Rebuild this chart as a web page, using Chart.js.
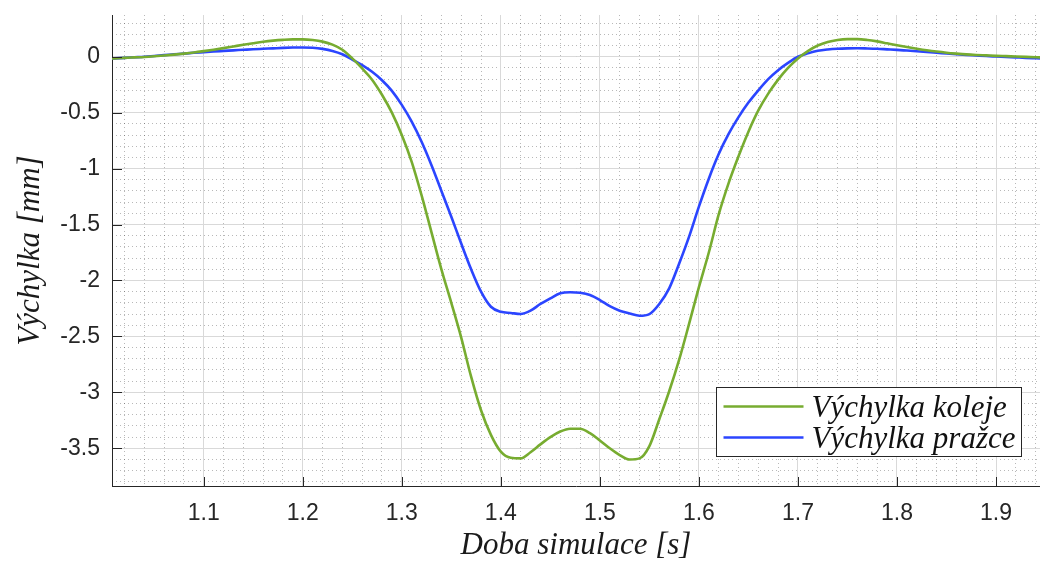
<!DOCTYPE html>
<html>
<head>
<meta charset="utf-8">
<script src="https://cdn.jsdelivr.net/npm/chart.js@4.4.1/dist/chart.umd.min.js"></script>
<style>
  html, body { margin: 0; padding: 0; background: #fff; }
</style>
</head>
<body>
<canvas id="chart" width="1040" height="566"></canvas>
<script>
// simulation time [s]
const time = [
  1.00, 1.01, 1.02, 1.03, 1.04, 1.05, 1.06, 1.07, 1.08, 1.09,
  1.10, 1.11, 1.12, 1.13, 1.14, 1.15, 1.16, 1.17, 1.18, 1.19,
  1.20, 1.21, 1.22, 1.23, 1.24, 1.25, 1.26, 1.27, 1.28, 1.29,
  1.30, 1.31, 1.32, 1.33, 1.34, 1.35, 1.36, 1.37, 1.38, 1.39,
  1.40, 1.41, 1.42, 1.43, 1.44, 1.45, 1.46, 1.47, 1.48, 1.49,
  1.50, 1.51, 1.52, 1.53, 1.54, 1.55, 1.56, 1.57, 1.58, 1.59,
  1.60, 1.61, 1.62, 1.63, 1.64, 1.65, 1.66, 1.67, 1.68, 1.69,
  1.70, 1.71, 1.72, 1.73, 1.74, 1.75, 1.76, 1.77, 1.78, 1.79,
  1.80, 1.81, 1.82, 1.83, 1.84, 1.85, 1.86, 1.87, 1.88, 1.89,
  1.90, 1.91, 1.92, 1.93, 1.94, 1.95
];

// rail deflection [mm]
const koleje = [
  -0.020, -0.015, -0.010, -0.006, -0.002, 0.004, 0.011, 0.019, 0.028, 0.038,
  0.050, 0.063, 0.077, 0.092, 0.107, 0.121, 0.134, 0.144, 0.151, 0.155,
  0.155, 0.149, 0.135, 0.108, 0.062, -0.015, -0.105, -0.205, -0.340, -0.500,
  -0.700, -0.940, -1.240, -1.570, -1.900, -2.200, -2.510, -2.860, -3.160, -3.380,
  -3.530, -3.585, -3.590, -3.535, -3.465, -3.400, -3.350, -3.325, -3.325, -3.365,
  -3.430, -3.500, -3.560, -3.600, -3.590, -3.480, -3.240, -2.990, -2.710, -2.390,
  -2.060, -1.750, -1.410, -1.130, -0.890, -0.670, -0.480, -0.330, -0.205, -0.100,
  -0.015, 0.050, 0.100, 0.132, 0.150, 0.157, 0.157, 0.150, 0.137, 0.120,
  0.103, 0.087, 0.072, 0.058, 0.046, 0.036, 0.028, 0.021, 0.016, 0.012,
  0.008, 0.005, 0.002, -0.001, -0.004, -0.007
];

// sleeper deflection [mm]
const prazce = [
  -0.020, -0.015, -0.010, -0.005, 0.000, 0.007, 0.014, 0.021, 0.028, 0.035,
  0.041, 0.047, 0.052, 0.057, 0.062, 0.067, 0.071, 0.075, 0.079, 0.082,
  0.083, 0.080, 0.070, 0.052, 0.022, -0.025, -0.075, -0.135, -0.210, -0.305,
  -0.430, -0.580, -0.760, -0.970, -1.200, -1.430, -1.670, -1.900, -2.100, -2.235,
  -2.280, -2.290, -2.300, -2.270, -2.210, -2.160, -2.115, -2.105, -2.110, -2.130,
  -2.175, -2.230, -2.270, -2.295, -2.315, -2.300, -2.210, -2.070, -1.850, -1.610,
  -1.340, -1.090, -0.870, -0.690, -0.540, -0.410, -0.300, -0.200, -0.120, -0.055,
  0.000, 0.030, 0.053, 0.065, 0.072, 0.075, 0.076, 0.074, 0.071, 0.066,
  0.061, 0.055, 0.049, 0.043, 0.036, 0.029, 0.022, 0.016, 0.011, 0.006,
  0.002, -0.002, -0.006, -0.010, -0.013, -0.016
];

const seriesNames = ["Výchylka koleje", "Výchylka pražce"];
const seriesColors = ["#77AC30", "#2B45FF"];

const xTicks = [1.1, 1.2, 1.3, 1.4, 1.5, 1.6, 1.7, 1.8, 1.9];
const yTicks = [0, -0.5, -1, -1.5, -2, -2.5, -3, -3.5];
const xRange = [1.0074, 1.9444];
const yRange = [-3.837, 0.373];
const xMinorStep = 0.02;
const yMinorStep = 0.1;

const tickFont = { family: "'Liberation Sans', Arial, sans-serif", size: 23 };
const titleFont = { family: "'Liberation Serif', 'Times New Roman', serif", style: "italic", size: 31 };

function minorTicks(min, max, step) {
  const out = [];
  for (let v = Math.ceil(min / step) * step; v <= max + 1e-9; v += step) {
    out.push({ value: +v.toFixed(4) });
  }
  return out;
}

// drop the label overflow padding so the plot box stays where it is
function noPad(s) {
  s.paddingTop = 0;
  s.paddingBottom = 0;
  s.paddingLeft = 0;
  s.paddingRight = 0;
}

// MATLAB style ticks pointing into the plot
const inwardTicks = {
  id: "inwardTicks",
  afterDatasetsDraw(chart) {
    const { ctx, chartArea: a, scales } = chart;
    ctx.save();
    ctx.strokeStyle = "#262626";
    ctx.lineWidth = 1;
    ctx.beginPath();
    scales.x.ticks.forEach((t) => {
      const px = Math.round(scales.x.getPixelForValue(t.value)) + 0.5;
      ctx.moveTo(px, a.bottom);
      ctx.lineTo(px, a.bottom - 9);
    });
    scales.y.ticks.forEach((t) => {
      const py = Math.round(scales.y.getPixelForValue(t.value)) + 0.5;
      ctx.moveTo(a.left, py);
      ctx.lineTo(a.left + 10, py);
    });
    ctx.stroke();
    ctx.restore();
  },
};

// boxed legend inside the plot, lower right
const boxLegend = {
  id: "boxLegend",
  afterDraw(chart) {
    const { ctx, chartArea: a } = chart;
    const w = 305, h = 69;
    const x0 = Math.round(a.right - 19 - w) + 0.5;
    const y0 = Math.round(a.bottom - 30 - h) + 0.5;
    ctx.save();
    ctx.fillStyle = "#fff";
    ctx.fillRect(x0, y0, w, h);
    ctx.strokeStyle = "#262626";
    ctx.lineWidth = 1;
    ctx.strokeRect(x0, y0, w, h);
    ctx.font = `italic ${titleFont.size}px ${titleFont.family}`;
    ctx.textBaseline = "alphabetic";
    ctx.textAlign = "left";
    chart.data.datasets.forEach((ds, i) => {
      const cy = y0 + 19 + i * 31;
      ctx.strokeStyle = ds.borderColor;
      ctx.lineWidth = ds.borderWidth;
      ctx.beginPath();
      ctx.moveTo(x0 + 7, cy);
      ctx.lineTo(x0 + 87, cy);
      ctx.stroke();
      ctx.fillStyle = "#111";
      ctx.fillText(ds.label, x0 + 95, cy + 10);
    });
    ctx.restore();
  },
};

const chart = new Chart(document.getElementById("chart").getContext("2d"), {
  type: "line",
  data: {
    datasets: [
      {
        label: seriesNames[0],
        data: time.map((t, i) => ({ x: t, y: koleje[i] })),
        borderColor: seriesColors[0],
        borderWidth: 2.6,
      },
      {
        label: seriesNames[1],
        data: time.map((t, i) => ({ x: t, y: prazce[i] })),
        borderColor: seriesColors[1],
        borderWidth: 2.6,
      },
    ],
  },
  options: {
    responsive: false,
    animation: false,
    devicePixelRatio: 1,
    layout: { padding: { top: 15, left: 0, right: 0, bottom: 0 } },
    elements: {
      point: { radius: 0 },
      line: { cubicInterpolationMode: "monotone", fill: false },
    },
    plugins: {
      legend: { display: false },
      tooltip: { enabled: false },
    },
    scales: {
      xMinor: {
        type: "linear",
        position: "top",
        min: xRange[0],
        max: xRange[1],
        afterBuildTicks: (s) => { s.ticks = minorTicks(xRange[0], xRange[1], xMinorStep); },
        afterFit: (s) => { s.height = 0; noPad(s); },
        ticks: { display: false },
        grid: { color: "rgba(0,0,0,0.28)", lineWidth: 1, drawTicks: false },
        border: { display: false, dash: [1, 3] },
      },
      yMinor: {
        type: "linear",
        position: "right",
        min: yRange[0],
        max: yRange[1],
        afterBuildTicks: (s) => { s.ticks = minorTicks(yRange[0], yRange[1], yMinorStep); },
        afterFit: (s) => { s.width = 0; noPad(s); },
        ticks: { display: false },
        grid: { color: "rgba(0,0,0,0.28)", lineWidth: 1, drawTicks: false },
        border: { display: false, dash: [1, 3] },
      },
      x: {
        type: "linear",
        position: "bottom",
        min: xRange[0],
        max: xRange[1],
        afterBuildTicks: (s) => { s.ticks = xTicks.map((v) => ({ value: v })); },
        afterFit: (s) => { s.height = 80; noPad(s); },
        ticks: {
          callback: (v) => String(v),
          font: tickFont,
          color: "#262626",
          padding: 14,
          maxRotation: 0,
          autoSkip: false,
        },
        grid: { color: "#d9d9d9", lineWidth: 1, drawTicks: false },
        border: { display: true, color: "#262626", width: 1 },
        title: {
          display: true,
          text: "Doba simulace [s]",
          font: titleFont,
          color: "#1a1a1a",
          padding: { top: 0, bottom: 2 },
        },
      },
      y: {
        type: "linear",
        position: "left",
        min: yRange[0],
        max: yRange[1],
        afterBuildTicks: (s) => { s.ticks = yTicks.map((v) => ({ value: v })); },
        afterFit: (s) => { s.width = 112; noPad(s); },
        ticks: {
          callback: (v) => String(v),
          font: tickFont,
          color: "#262626",
          padding: 12,
        },
        grid: { color: "#d9d9d9", lineWidth: 1, drawTicks: false },
        border: { display: true, color: "#262626", width: 1 },
        title: {
          display: true,
          text: "Výchylka [mm]",
          font: titleFont,
          color: "#1a1a1a",
          padding: { top: 12, bottom: 0 },
        },
      },
    },
  },
  plugins: [inwardTicks, boxLegend],
});
</script>
</body>
</html>
